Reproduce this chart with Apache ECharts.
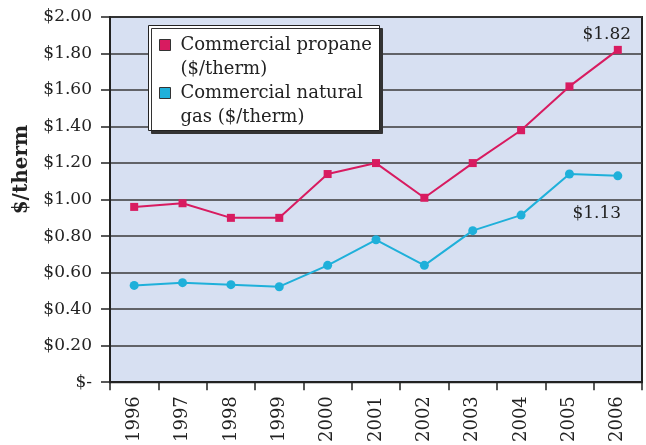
<!DOCTYPE html>
<html>
<head>
<meta charset="utf-8">
<script src="https://cdn.jsdelivr.net/npm/echarts@6/dist/echarts.min.js"></script>
<style>
  html, body { margin: 0; padding: 0; background: #fff; }
  #chart { width: 646px; height: 445px; }
</style>
</head>
<body>
<div id="chart"></div>
<script>
const years = ['1996', '1997', '1998', '1999', '2000', '2001', '2002', '2003', '2004', '2005', '2006']
// values
const propane = [0.96, 0.98, 0.90, 0.90, 1.14, 1.20, 1.01, 1.20, 1.38, 1.62, 1.82]
const naturalGas = [0.53, 0.545, 0.534, 0.523, 0.64, 0.78, 0.64, 0.83, 0.915, 1.14, 1.13]
const seriesNames = ['Commercial propane', 'Commercial natural gas']
// how the legend text is broken over two lines
const legendLines = {
  'Commercial propane': ['Commercial propane', '($/therm)'],
  'Commercial natural gas': ['Commercial natural', 'gas ($/therm)']
}

const font = 'DejaVu Serif'
const ink = '#222'

const chart = echarts.init(document.getElementById('chart'))

// only the last point gets a value label
function lastLabel(data, offset, pos) {
  return data.map((v, i) => {
    if (i !== data.length - 1) return v
    return {
      value: v,
      label: {
        show: true,
        position: pos,
        formatter: p => '$' + p.value.toFixed(2),
        offset: offset,
        color: ink,
        fontFamily: font,
        fontSize: 17
      }
    }
  })
}

chart.setOption({
  animation: false,
  textStyle: { fontFamily: font, color: ink },
  grid: {
    left: 110, right: 4, top: 17, bottom: 61,
    show: true,
    backgroundColor: '#d7e0f2',
    borderColor: ink,
    borderWidth: 2
  },
  // legend frame with its drop shadow
  graphic: [{
    type: 'rect',
    z: 3,
    shape: { x: 148.5, y: 25.5, width: 231, height: 105 },
    style: {
      fill: '#fff', stroke: ink, lineWidth: 1,
      shadowColor: '#333', shadowOffsetX: 3, shadowOffsetY: 3, shadowBlur: 0
    }
  }],
  legend: {
    left: 159, top: 12,
    orient: 'vertical',
    z: 4,
    data: seriesNames,
    icon: 'rect',
    itemWidth: 11, itemHeight: 11,
    itemGap: -18,
    padding: 0,
    itemStyle: { borderColor: '#333', borderWidth: 1 },
    // blank first line so the icon sits on the first text line
    formatter: name => '{t| }\n{t|' + legendLines[name][0] + '}\n{t|' + legendLines[name][1] + '}',
    textStyle: {
      fontFamily: font, fontSize: 18, color: ink,
      rich: { t: { fontFamily: font, fontSize: 18, color: ink, lineHeight: 24, padding: [0, 0, 0, 5] } }
    }
  },
  xAxis: {
    type: 'category',
    data: years,
    boundaryGap: true,
    axisLine: { lineStyle: { color: ink, width: 2 } },
    axisTick: { show: true, length: 8, lineStyle: { color: ink, width: 1.5 } },
    axisLabel: { rotate: 90, fontSize: 18, color: ink, fontFamily: font, margin: 14 }
  },
  yAxis: {
    type: 'value',
    min: 0, max: 2, interval: 0.2,
    name: '$/therm',
    nameLocation: 'middle',
    nameGap: 78,
    nameTextStyle: {
      fontFamily: font, fontSize: 20, fontWeight: 'bold', color: ink,
      padding: [0, 0, 0, 60]
    },
    axisLine: { show: true, lineStyle: { color: ink, width: 2 } },
    axisTick: { show: true, length: 9, lineStyle: { color: ink, width: 1.5 } },
    splitLine: { lineStyle: { color: '#3a3a3a', width: 1.5 } },
    axisLabel: {
      fontSize: 17, color: ink, fontFamily: font, margin: 18,
      formatter: v => v === 0 ? '$-' : '$' + v.toFixed(2)
    }
  },
  series: [
    {
      name: seriesNames[0],
      type: 'line',
      data: lastLabel(propane, [-11, 2], 'top'),
      symbol: 'rect',
      symbolSize: 8,
      color: '#d81b60',
      lineStyle: { width: 2 }
    },
    {
      name: seriesNames[1],
      type: 'line',
      data: lastLabel(naturalGas, [-21, 20], 'bottom'),
      symbol: 'circle',
      symbolSize: 9,
      color: '#1fb0da',
      lineStyle: { width: 2 }
    }
  ]
})
</script>
</body>
</html>
